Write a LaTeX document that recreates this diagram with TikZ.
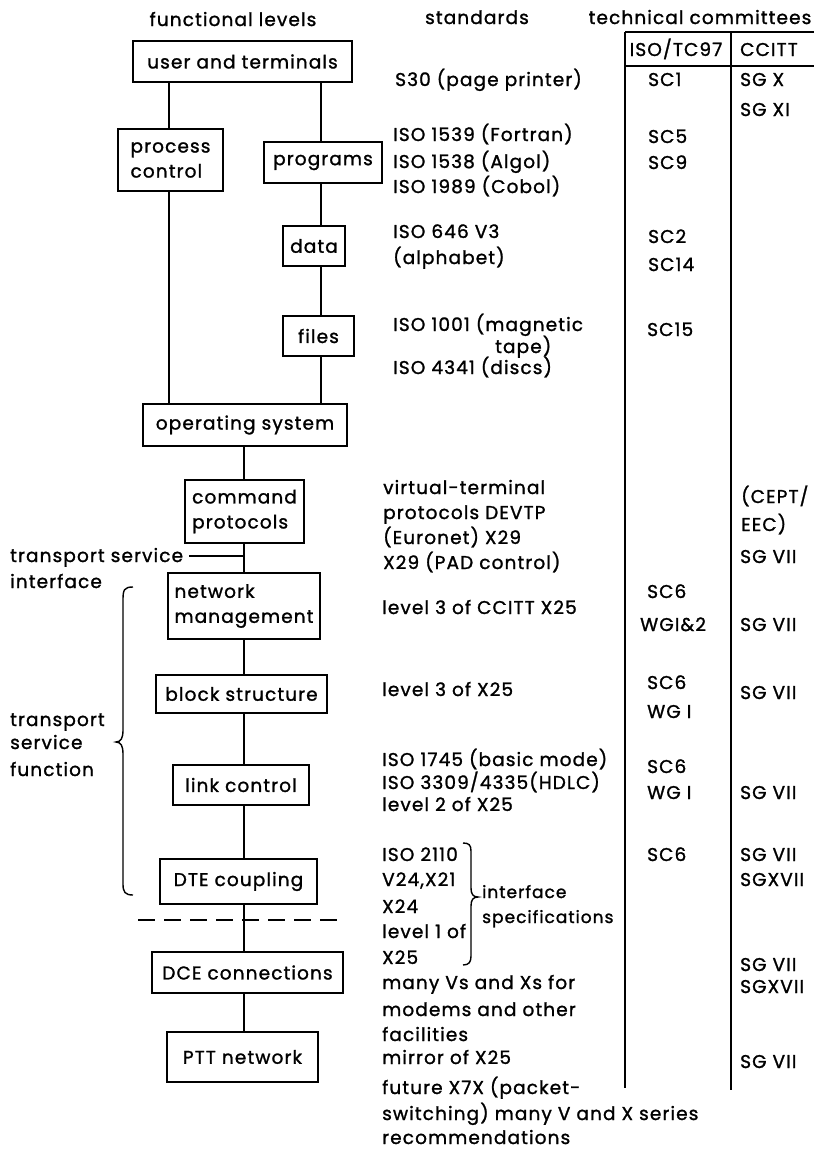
\documentclass[tikz,border=0pt]{standalone}
\usepackage{fontspec}
\setmainfont{Poppins}[LetterSpace=6,FakeBold=1.3]
\begin{document}
\begin{tikzpicture}[x=1pt,y=-1pt,
  txt/.style={inner sep=0pt,anchor=base west,font=\fontsize{18.5}{25}\selectfont},
  hdr/.style={inner sep=0pt,anchor=base,font=\fontsize{18.5}{25}\selectfont},
  level/.style={draw,line width=1.8pt,inner sep=0pt,font=\fontsize{18.5}{25}\selectfont},
  wire/.style={line width=1.4pt},
  rule/.style={line width=2.6pt}]
\useasboundingbox (0,0) rectangle (814,1149);

% column headings
\node[hdr] (hfun) at (233,26) {functional levels};
\node[hdr] (hstd) at (477,24) {standards};
\node[hdr] (htc)  at (700,24) {technical committees};

% functional level boxes
\node[level,minimum width=219pt,minimum height=41pt] (user) at (242.5,61.5) {user and terminals};
\node[level,minimum width=105pt,minimum height=62pt,align=left] (pc) at (170.5,160) {process\\control};
\node[level,minimum width=118pt,minimum height=41pt] (prog) at (323,162.5) {programs};
\node[level,minimum width=62pt,minimum height=40pt] (data) at (314,246) {data};
\node[level,minimum width=71pt,minimum height=40pt] (files) at (318.5,336) {files};
\node[level,minimum width=204pt,minimum height=42pt] (os) at (245,425) {operating system};
\node[level,minimum width=119pt,minimum height=63pt,align=left] (cmd) at (244.5,511.5) {command\\protocols};
\node[level,minimum width=152pt,minimum height=66pt,align=left] (nm) at (244,606) {network\\management};
\node[level,minimum width=171pt,minimum height=38pt] (bs) at (241.5,694) {block structure};
\node[level,minimum width=136pt,minimum height=40pt] (lc) at (241,785) {link control};
\node[level,minimum width=157pt,minimum height=45pt] (dte) at (238.5,881.5) {DTE coupling};
\node[level,minimum width=191pt,minimum height=41pt] (dce) at (247.5,972.5) {DCE connections};
\node[level,minimum width=151pt,minimum height=50pt] (ptt) at (242.5,1057) {PTT network};

% vertical tracks of the connectors
\coordinate (ll) at (169,0);
\coordinate (rl) at (321,0);
\coordinate (cl) at (244,0);

\draw[wire] (user.south -| ll) -- (pc.north -| ll);
\draw[wire] (pc.south -| ll) -- (os.north -| ll);
\draw[wire] (user.south -| rl) -- (prog.north -| rl);
\draw[wire] (prog.south -| rl) -- (data.north -| rl);
\draw[wire] (data.south -| rl) -- (files.north -| rl);
\draw[wire] (files.south -| rl) -- (os.north -| rl);
\draw[wire] (os.south -| cl) -- (cmd.north -| cl);
\draw[wire] (cmd.south -| cl) -- (nm.north -| cl);
\draw[wire] (nm.south -| cl) -- (bs.north -| cl);
\draw[wire] (bs.south -| cl) -- (lc.north -| cl);
\draw[wire] (lc.south -| cl) -- (dte.north -| cl);
\draw[wire] (dte.south -| cl) -- (dce.north -| cl);
\draw[wire] (dce.south -| cl) -- (ptt.north -| cl);

% transport service interface
\node[txt] (tsi1) at (10,562) {transport service};
\node[txt] (tsi2) at (10,588) {interface};
\coordinate (tsiend) at (189,556);
\draw[wire] (tsiend) -- (tsiend -| cl);

% transport service function with its brace
\node[txt] (tsf1) at (10,726) {transport};
\node[txt] (tsf2) at (10,749) {service};
\node[txt] (tsf3) at (10,776) {function};
\coordinate (bt) at (133,587);
\coordinate (bm) at (116,742);
\coordinate (bb) at (133,895);
\draw[wire] (bt) .. controls (124,587) and (123,590) .. (123,600)
  -- (123,730) .. controls (123,738) and (121,742) .. (bm)
  .. controls (121,742) and (123,746) .. (123,754)
  -- (123,884) .. controls (123,892) and (125,895) .. (bb);

% DTE/DCE boundary
\coordinate (dl) at (138,920);
\coordinate (dr) at (343,920);
\draw[line width=1.6pt,dash pattern=on 17pt off 9pt] (dl) -- (dr);

% standards
\node[txt] (s1) at (395,86) {S30 (page printer)};
\node[txt] (s2) at (393,141) {ISO 1539 (Fortran)};
\node[txt] (s3) at (393,168) {ISO 1538 (Algol)};
\node[txt] (s4) at (393,193) {ISO 1989 (Cobol)};
\node[txt] (s5) at (393,238) {ISO 646 V3};
\node[txt] (s6) at (393,264) {(alphabet)};
\node[txt] (s7) at (393,331) {ISO 1001 (magnetic};
\node[txt] (s8) at (495,353) {tape)};
\node[txt] (s9) at (393,374) {ISO 4341 (discs)};
\node[txt] (s10) at (383,494) {virtual-terminal};
\node[txt] (s11) at (383,519) {protocols DEVTP};
\node[txt] (s12) at (383,544) {(Euronet) X29};
\node[txt] (s13) at (383,569) {X29 (PAD control)};
\node[txt] (s14) at (382,614) {level 3 of CCITT X25};
\node[txt] (s15) at (382,696) {level 3 of X25};
\node[txt] (s16) at (382,766) {ISO 1745 (basic mode)};
\node[txt] (s17) at (382,789) {ISO 3309/4335(HDLC)};
\node[txt] (s18) at (382,811) {level 2 of X25};
\node[txt] (s19) at (382,861) {ISO 2110};
\node[txt] (s20) at (382,886) {V24,X21};
\node[txt] (s21) at (382,913) {X24};
\node[txt] (s22) at (382,938) {level 1 of};
\node[txt] (s23) at (382,964) {X25};
\node[txt] (s24) at (382,989) {many Vs and Xs for};
\node[txt] (s25) at (382,1016) {modems and other};
\node[txt] (s26) at (382,1041) {facilities};
\node[txt] (s27) at (382,1064) {mirror of X25};
\node[txt] (s28) at (382,1094) {future X7X (packet-};
\node[txt] (s29) at (382,1120) {switching) many V and X series};
\node[txt] (s30) at (382,1144) {recommendations};

% interface specifications brace
\node[txt,font=\fontsize{17}{25}\selectfont] (is1) at (482,898) {interface};
\node[txt,font=\fontsize{17}{25}\selectfont] (is2) at (482,923) {specifications};
\coordinate (it) at (463,843);
\coordinate (im) at (478,897);
\coordinate (ib) at (463,965);
\draw[wire] (it) .. controls (469,843) and (471,845) .. (471,851)
  -- (471,888) .. controls (471,894) and (473,897) .. (im)
  .. controls (473,897) and (471,900) .. (471,906)
  -- (471,956) .. controls (471,962) and (469,965) .. (ib);

% committees table
\coordinate (tl) at (625,32);
\coordinate (tr) at (814,32);
\coordinate (hl) at (625,66);
\coordinate (hr) at (814,66);
\coordinate (c1b) at (625,1088);
\coordinate (c2t) at (731,32);
\coordinate (c2b) at (731,1090);
\draw[rule] (tl) -- (tr);
\draw[rule] (hl) -- (hr);
\draw[rule] (tl) -- (c1b);
\draw[rule] (c2t) -- (c2b);
\node[hdr] (iso) at (676,56) {ISO/TC97};
\node[txt] (ccitt) at (740,56) {CCITT};

% ISO/TC97 entries
\node[txt] (i1) at (648,86) {SC1};
\node[txt] (i2) at (648,143) {SC5};
\node[txt] (i3) at (648,169) {SC9};
\node[txt] (i4) at (648,243) {SC2};
\node[txt] (i5) at (648,271) {SC14};
\node[txt] (i6) at (647,336) {SC15};
\node[txt] (i7) at (647,598) {SC6};
\node[txt] (i8) at (640,631) {WGI\&2};
\node[txt] (i9) at (647,689) {SC6};
\node[txt] (i10) at (647,718) {WG I};
\node[txt] (i11) at (647,773) {SC6};
\node[txt] (i12) at (647,799) {WG I};
\node[txt] (i13) at (647,861) {SC6};

% CCITT entries
\node[txt] (k1) at (740,86) {SG X};
\node[txt] (k2) at (740,116) {SG XI};
\node[txt] (k3) at (741,503) {(CEPT/};
\node[txt] (k4) at (741,531) {EEC)};
\node[txt] (k5) at (740,563) {SG VII};
\node[txt] (k6) at (740,631) {SG VII};
\node[txt] (k7) at (740,699) {SG VII};
\node[txt] (k8) at (740,799) {SG VII};
\node[txt] (k9) at (740,861) {SG VII};
\node[txt] (k10) at (740,886) {SGXVII};
\node[txt] (k11) at (740,971) {SG VII};
\node[txt] (k12) at (740,993) {SGXVII};
\node[txt] (k13) at (740,1068) {SG VII};
\end{tikzpicture}
\end{document}
